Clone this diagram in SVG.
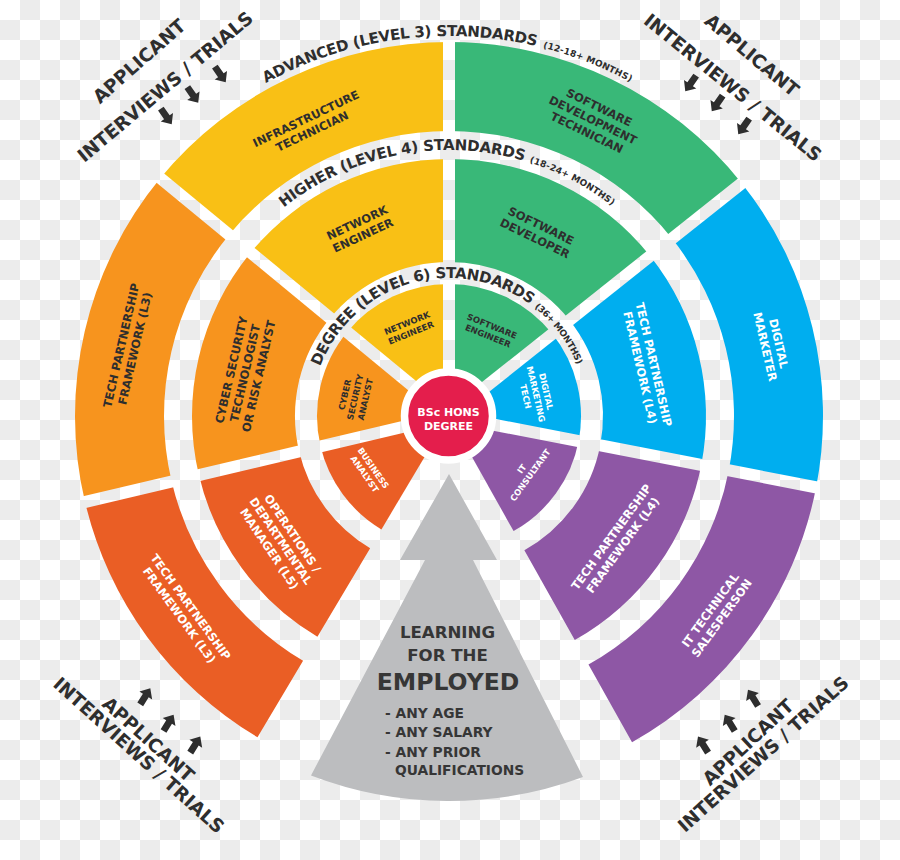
<svg xmlns="http://www.w3.org/2000/svg" xmlns:xlink="http://www.w3.org/1999/xlink" width="900" height="860" viewBox="0 0 900 860">
<defs>
<pattern id="chk" width="40" height="40" patternUnits="userSpaceOnUse"><rect width="40" height="40" fill="#ffffff"/><rect x="20" y="0" width="20" height="20" fill="#ececec"/><rect x="0" y="20" width="20" height="20" fill="#ececec"/></pattern>
<path id="arc1" d="M 204.74 124.90 A 380 380 0 0 1 693.26 124.90"/>
<path id="arc2" d="M 245.23 245.02 A 266 266 0 0 1 652.77 245.02"/>
<path id="arc3" d="M 315.70 380.28 A 138 138 0 0 1 582.30 380.28"/>
<path id="arr" d="M0,-10 L7.5,-1.5 L3.4,-1.5 L3.4,9 L-3.4,9 L-3.4,-1.5 L-7.5,-1.5 Z"/>
<style>
.t{font-family:"DejaVu Sans","Liberation Sans",sans-serif;font-weight:bold;}
.dk{fill:#2e2e2e;}
.wt{fill:#ffffff;}
.lo{font-size:11.5px;}
.li{font-size:8.5px;}
.arcm{font-size:15px;}
.arcs{font-size:9px;}
.ap{font-size:18.5px;}
.yel{fill:#f9c015;}
.grn{fill:#39b878;}
.blu{fill:#00aeef;}
.pur{fill:#8e57a5;}
.org{fill:#f7941e;}
.ord{fill:#ea5e25;}
.gap{stroke:url(#chk);stroke-width:12;fill:none;}
.ar{fill:#2e2e2e;}
</style>
</defs>
<rect width="900" height="860" fill="url(#chk)"/>

<g id="outer-ring">
<path id="infrastructure-technician" class="yel" d="M 160.41 178.11 A 374 374 0 0 1 449 42 L 449 131 A 285 285 0 0 0 229.09 234.72 Z"/>
<path id="software-development-technician" class="grn" d="M 449 42 A 374 374 0 0 1 741.70 183.18 L 672.04 238.58 A 285 285 0 0 0 449 131 Z"/>
<path id="digital-marketer" class="blu" d="M 741.70 183.18 A 374 374 0 0 1 816.13 487.36 L 728.76 470.38 A 285 285 0 0 0 672.04 238.58 Z"/>
<path id="it-technical-salesperson" class="pur" d="M 816.13 487.36 A 374 374 0 0 1 632.03 742.15 L 588.47 664.54 A 285 285 0 0 0 728.76 470.38 Z"/>
<path id="tech-partnership-l3-red" class="ord" d="M 257.50 737.25 A 374 374 0 0 1 85.03 502.04 L 171.64 481.56 A 285 285 0 0 0 303.07 660.80 Z"/>
<path id="tech-partnership-l3-orange" class="org" d="M 85.03 502.04 A 374 374 0 0 1 160.41 178.11 L 229.09 234.72 A 285 285 0 0 0 171.64 481.56 Z"/>
</g>
<g id="middle-ring">
<path id="network-engineer-l4" class="yel" d="M 250.69 252.53 A 257 257 0 0 1 449 159 L 449 262 A 154 154 0 0 0 330.17 318.04 Z"/>
<path id="software-developer" class="grn" d="M 449 159 A 257 257 0 0 1 650.13 256.01 L 569.52 320.13 A 154 154 0 0 0 449 262 Z"/>
<path id="tech-partnership-l4-blue" class="blu" d="M 650.13 256.01 A 257 257 0 0 1 701.28 465.04 L 600.17 445.38 A 154 154 0 0 0 569.52 320.13 Z"/>
<path id="tech-partnership-l4-purple" class="pur" d="M 701.28 465.04 A 257 257 0 0 1 574.77 640.12 L 524.36 550.30 A 154 154 0 0 0 600.17 445.38 Z"/>
<path id="operations-manager" class="ord" d="M 317.41 636.75 A 257 257 0 0 1 198.89 475.12 L 299.13 451.43 A 154 154 0 0 0 370.15 548.28 Z"/>
<path id="cyber-security-technologist" class="org" d="M 198.89 475.12 A 257 257 0 0 1 250.69 252.53 L 330.17 318.04 A 154 154 0 0 0 299.13 451.43 Z"/>
</g>
<g id="inner-ring">
<path id="network-engineer-l6" class="yel" d="M 449 416 L 347.15 332.04 A 132 132 0 0 1 449 284 Z"/>
<path id="software-engineer" class="grn" d="M 449 416 L 449 284 A 132 132 0 0 1 552.30 333.83 Z"/>
<path id="digital-marketing-tech" class="blu" d="M 449 416 L 552.30 333.83 A 132 132 0 0 1 578.58 441.19 Z"/>
<path id="it-consultant" class="pur" d="M 449 416 L 578.58 441.19 A 132 132 0 0 1 513.60 531.11 Z"/>
<path id="business-analyst" class="ord" d="M 449 416 L 381.41 529.38 A 132 132 0 0 1 320.54 446.37 Z"/>
<path id="cyber-security-analyst" class="org" d="M 449 416 L 320.54 446.37 A 132 132 0 0 1 347.15 332.04 Z"/>
</g>
<g id="connectors" class="gap">
<line x1="449" y1="416" x2="449" y2="36"/>
<line x1="449" y1="416" x2="746.39" y2="179.45"/>
<line x1="449" y1="416" x2="822.02" y2="488.51"/>
<line x1="449" y1="416" x2="79.19" y2="503.42"/>
<line x1="449" y1="416" x2="155.78" y2="174.29"/>
</g>

<g id="bsc-hons-degree">
<circle cx="448.5" cy="416" r="44" fill="#e41e4c" stroke="#ffffff" stroke-width="7.5"/>
<text class="t wt" font-size="11" text-anchor="middle"><tspan x="448.5" y="416">BSc HONS</tspan><tspan x="448.5" y="429.5">DEGREE</tspan></text>
</g>

<g id="learning-for-the-employed">
<path d="M 449 474 L 497 560 L 473 560 L 583 776.9 A 385 385 0 0 1 311 775.4 L 425 560 L 400 560 Z" fill="#bcbdbf"/>
<text class="t" fill="#363636" text-anchor="middle" font-size="16.6"><tspan x="447.5" y="638.3">LEARNING</tspan><tspan x="447.5" y="661">FOR THE</tspan></text>
<text class="t" fill="#363636" text-anchor="middle" font-size="23.5" x="448" y="690">EMPLOYED</text>
<text class="t" fill="#363636" font-size="13.8"><tspan x="385" y="718.3">- ANY AGE</tspan><tspan x="385" y="737.3">- ANY SALARY</tspan><tspan x="385" y="756.7">- ANY PRIOR</tspan><tspan x="395" y="775">QUALIFICATIONS</tspan></text>
</g>

<g id="level-labels">
<text class="t dk arcm"><textPath xlink:href="#arc1" href="#arc1" startOffset="74.3" textLength="279" lengthAdjust="spacing">ADVANCED (LEVEL 3) STANDARDS</textPath></text>
<text class="t dk arcs"><textPath xlink:href="#arc1" href="#arc1" startOffset="360" textLength="94" lengthAdjust="spacing">(12-18+ MONTHS)</textPath></text>
<text class="t dk arcm"><textPath xlink:href="#arc2" href="#arc2" startOffset="53.9" textLength="254" lengthAdjust="spacing">HIGHER (LEVEL 4) STANDARDS</textPath></text>
<text class="t dk arcs"><textPath xlink:href="#arc2" href="#arc2" startOffset="313.4" textLength="93.8" lengthAdjust="spacing">(18-24+ MONTHS)</textPath></text>
<text class="t dk arcm"><textPath xlink:href="#arc3" href="#arc3" startOffset="14.45" textLength="252.9" lengthAdjust="spacing">DEGREE (LEVEL 6) STANDARDS</textPath></text>
<text class="t dk arcs"><textPath xlink:href="#arc3" href="#arc3" startOffset="272.2" textLength="72.3" lengthAdjust="spacing">(36+ MONTHS)</textPath></text>
</g>

<g id="segment-labels" text-anchor="middle">
<g transform="translate(309 125) rotate(-25.5)"><text class="t dk lo"><tspan x="0" y="-2.9">INFRASTRUCTURE</tspan><tspan x="0" y="11.1">TECHNICIAN</tspan></text></g>
<g transform="translate(593 120) rotate(26)"><text class="t dk lo"><tspan x="0" y="-9.9">SOFTWARE</tspan><tspan x="0" y="4.1">DEVELOPMENT</tspan><tspan x="0" y="18.1">TECHNICIAN</tspan></text></g>
<g transform="translate(772 345) rotate(77)"><text class="t wt lo"><tspan x="0" y="-2.9">DIGITAL</tspan><tspan x="0" y="11.1">MARKETER</tspan></text></g>
<g transform="translate(716 614) rotate(-54)"><text class="t wt lo"><tspan x="0" y="-2.9">IT TECHNICAL</tspan><tspan x="0" y="11.1">SALESPERSON</tspan></text></g>
<g transform="translate(185 611) rotate(54)"><text class="t wt lo"><tspan x="0" y="-2.9">TECH PARTNERSHIP</tspan><tspan x="0" y="11.1">FRAMEWORK (L3)</tspan></text></g>
<g transform="translate(128 347) rotate(-77)"><text class="t dk lo"><tspan x="0" y="-2.9">TECH PARTNERSHIP</tspan><tspan x="0" y="11.1">FRAMEWORK (L3)</tspan></text></g>

<g transform="translate(360 229) rotate(-25)"><text class="t dk lo"><tspan x="0" y="-2.9">NETWORK</tspan><tspan x="0" y="11.1">ENGINEER</tspan></text></g>
<g transform="translate(538 232) rotate(26)"><text class="t dk lo"><tspan x="0" y="-2.9">SOFTWARE</tspan><tspan x="0" y="11.1">DEVELOPER</tspan></text></g>
<g transform="translate(647 366) rotate(77)"><text class="t wt lo"><tspan x="0" y="-2.9">TECH PARTNERSHIP</tspan><tspan x="0" y="11.1">FRAMEWORK (L4)</tspan></text></g>
<g transform="translate(617 541) rotate(-54)"><text class="t wt lo"><tspan x="0" y="-2.9">TECH PARTNERSHIP</tspan><tspan x="0" y="11.1">FRAMEWORK (L4)</tspan></text></g>
<g transform="translate(281 541) rotate(56)"><text class="t wt lo"><tspan x="0" y="-9.9">OPERATIONS /</tspan><tspan x="0" y="4.1">DEPARTMENTAL</tspan><tspan x="0" y="18.1">MANAGER (L5)</tspan></text></g>
<g transform="translate(245 373) rotate(-77)"><text class="t dk lo"><tspan x="0" y="-9.9">CYBER SECURITY</tspan><tspan x="0" y="4.1">TECHNOLOGIST</tspan><tspan x="0" y="18.1">OR RISK ANALYST</tspan></text></g>

<g transform="translate(409 328) rotate(-22)"><text class="t dk li"><tspan x="0" y="-2.2">NETWORK</tspan><tspan x="0" y="8.3">ENGINEER</tspan></text></g>
<g transform="translate(490 331) rotate(22)"><text class="t dk li"><tspan x="0" y="-2.2">SOFTWARE</tspan><tspan x="0" y="8.3">ENGINEER</tspan></text></g>
<g transform="translate(536 394) rotate(77)"><text class="t wt li"><tspan x="0" y="-7.4">DIGITAL</tspan><tspan x="0" y="3.1">MARKETING</tspan><tspan x="0" y="13.6">TECH</tspan></text></g>
<g transform="translate(526 472) rotate(-54)"><text class="t wt li"><tspan x="0" y="-2.2">IT</tspan><tspan x="0" y="8.3">CONSULTANT</tspan></text></g>
<g transform="translate(369 471) rotate(55)"><text class="t wt li"><tspan x="0" y="-2.2">BUSINESS</tspan><tspan x="0" y="8.3">ANALYST</tspan></text></g>
<g transform="translate(355 397) rotate(-77)"><text class="t dk li"><tspan x="0" y="-7.4">CYBER</tspan><tspan x="0" y="3.1">SECURITY</tspan><tspan x="0" y="13.6">ANALYST</tspan></text></g>
</g>

<g id="applicant-top-left" text-anchor="middle">
<text class="t dk ap" transform="translate(139 61) rotate(-41.5)" x="0" y="6.7">APPLICANT</text>
<text class="t dk ap" transform="translate(165 86.5) rotate(-40)" x="0" y="6.7">INTERVIEWS / TRIALS</text>
<use href="#arr" xlink:href="#arr" class="ar" transform="translate(166 116) rotate(145)"/>
<use href="#arr" xlink:href="#arr" class="ar" transform="translate(192.5 94.5) rotate(145)"/>
<use href="#arr" xlink:href="#arr" class="ar" transform="translate(220 74) rotate(145)"/>
</g>
<g id="applicant-top-right" text-anchor="middle">
<text class="t dk ap" transform="translate(752 55) rotate(40)" x="0" y="6.7">APPLICANT</text>
<text class="t dk ap" transform="translate(733 87.5) rotate(39)" x="0" y="6.7">INTERVIEWS / TRIALS</text>
<use href="#arr" xlink:href="#arr" class="ar" transform="translate(691 83) rotate(215)"/>
<use href="#arr" xlink:href="#arr" class="ar" transform="translate(717.5 103) rotate(215)"/>
<use href="#arr" xlink:href="#arr" class="ar" transform="translate(744 126) rotate(215)"/>
</g>
<g id="applicant-bottom-left" text-anchor="middle">
<text class="t dk ap" transform="translate(148.5 739) rotate(42)" x="0" y="6.7">APPLICANT</text>
<text class="t dk ap" transform="translate(139 755) rotate(42)" x="0" y="6.7">INTERVIEWS / TRIALS</text>
<use href="#arr" xlink:href="#arr" class="ar" transform="translate(145 696.7) rotate(32)"/>
<use href="#arr" xlink:href="#arr" class="ar" transform="translate(168.3 723.3) rotate(32)"/>
<use href="#arr" xlink:href="#arr" class="ar" transform="translate(195 745) rotate(32)"/>
</g>
<g id="applicant-bottom-right" text-anchor="middle">
<text class="t dk ap" transform="translate(748 742) rotate(-43)" x="0" y="6.7">APPLICANT</text>
<text class="t dk ap" transform="translate(763 754) rotate(-42)" x="0" y="6.7">INTERVIEWS / TRIALS</text>
<use href="#arr" xlink:href="#arr" class="ar" transform="translate(703.3 745) rotate(-32)"/>
<use href="#arr" xlink:href="#arr" class="ar" transform="translate(730 723.3) rotate(-32)"/>
<use href="#arr" xlink:href="#arr" class="ar" transform="translate(753.3 698.3) rotate(-32)"/>
</g>
</svg>
